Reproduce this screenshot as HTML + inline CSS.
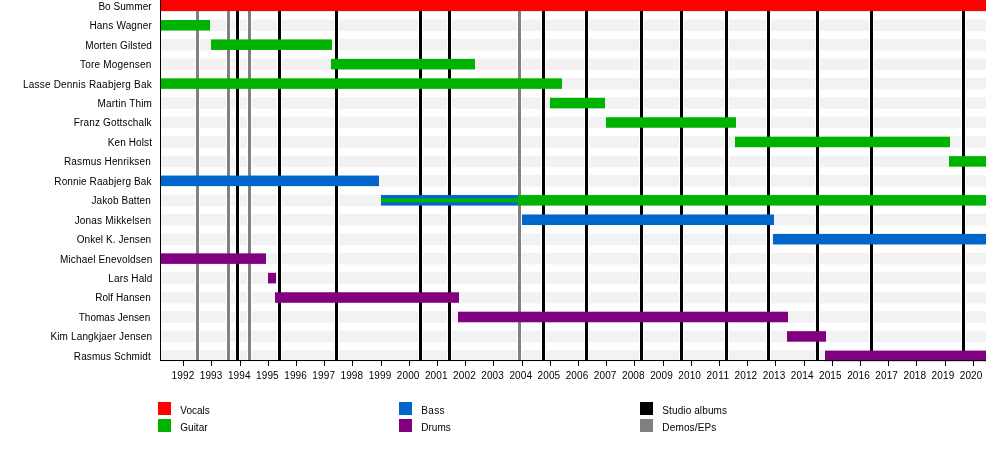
<!DOCTYPE html>
<html><head><meta charset="utf-8"><style>
html,body{margin:0;padding:0;background:#fff;width:1000px;height:450px;overflow:hidden;position:relative}
svg{will-change:transform}
svg text{font-family:"Liberation Sans",sans-serif;fill:#000}
</style></head><body>
<svg width="1000" height="450" viewBox="0 0 1000 450" style="position:absolute;left:0;top:0">
<rect x="160" y="0.01" width="826" height="11.6" fill="#f2f2f2"/>
<rect x="160" y="19.46" width="826" height="11.6" fill="#f2f2f2"/>
<rect x="160" y="38.90" width="826" height="11.6" fill="#f2f2f2"/>
<rect x="160" y="58.35" width="826" height="11.6" fill="#f2f2f2"/>
<rect x="160" y="77.80" width="826" height="11.6" fill="#f2f2f2"/>
<rect x="160" y="97.25" width="826" height="11.6" fill="#f2f2f2"/>
<rect x="160" y="116.70" width="826" height="11.6" fill="#f2f2f2"/>
<rect x="160" y="136.15" width="826" height="11.6" fill="#f2f2f2"/>
<rect x="160" y="155.60" width="826" height="11.6" fill="#f2f2f2"/>
<rect x="160" y="175.05" width="826" height="11.6" fill="#f2f2f2"/>
<rect x="160" y="194.50" width="826" height="11.6" fill="#f2f2f2"/>
<rect x="160" y="213.95" width="826" height="11.6" fill="#f2f2f2"/>
<rect x="160" y="233.39" width="826" height="11.6" fill="#f2f2f2"/>
<rect x="160" y="252.84" width="826" height="11.6" fill="#f2f2f2"/>
<rect x="160" y="272.29" width="826" height="11.6" fill="#f2f2f2"/>
<rect x="160" y="291.74" width="826" height="11.6" fill="#f2f2f2"/>
<rect x="160" y="311.19" width="826" height="11.6" fill="#f2f2f2"/>
<rect x="160" y="330.64" width="826" height="11.6" fill="#f2f2f2"/>
<rect x="160" y="350.09" width="826" height="11.6" fill="#f2f2f2"/>
<rect x="195" y="0" width="5" height="360" fill="#fff"/>
<rect x="226" y="0" width="5" height="360" fill="#fff"/>
<rect x="247" y="0" width="5" height="360" fill="#fff"/>
<rect x="517" y="0" width="5" height="360" fill="#fff"/>
<rect x="235" y="0" width="5" height="360" fill="#fff"/>
<rect x="277" y="0" width="5" height="360" fill="#fff"/>
<rect x="334" y="0" width="5" height="360" fill="#fff"/>
<rect x="418" y="0" width="5" height="360" fill="#fff"/>
<rect x="447" y="0" width="5" height="360" fill="#fff"/>
<rect x="541" y="0" width="5" height="360" fill="#fff"/>
<rect x="584" y="0" width="5" height="360" fill="#fff"/>
<rect x="639" y="0" width="5" height="360" fill="#fff"/>
<rect x="679" y="0" width="5" height="360" fill="#fff"/>
<rect x="724" y="0" width="5" height="360" fill="#fff"/>
<rect x="766" y="0" width="5" height="360" fill="#fff"/>
<rect x="815" y="0" width="5" height="360" fill="#fff"/>
<rect x="869" y="0" width="5" height="360" fill="#fff"/>
<rect x="961" y="0" width="5" height="360" fill="#fff"/>
<rect x="196" y="0" width="3" height="360" fill="#808080"/>
<rect x="227" y="0" width="3" height="360" fill="#808080"/>
<rect x="248" y="0" width="3" height="360" fill="#808080"/>
<rect x="518" y="0" width="3" height="360" fill="#808080"/>
<rect x="236" y="0" width="3" height="360" fill="#000000"/>
<rect x="278" y="0" width="3" height="360" fill="#000000"/>
<rect x="335" y="0" width="3" height="360" fill="#000000"/>
<rect x="419" y="0" width="3" height="360" fill="#000000"/>
<rect x="448" y="0" width="3" height="360" fill="#000000"/>
<rect x="542" y="0" width="3" height="360" fill="#000000"/>
<rect x="585" y="0" width="3" height="360" fill="#000000"/>
<rect x="640" y="0" width="3" height="360" fill="#000000"/>
<rect x="680" y="0" width="3" height="360" fill="#000000"/>
<rect x="725" y="0" width="3" height="360" fill="#000000"/>
<rect x="767" y="0" width="3" height="360" fill="#000000"/>
<rect x="816" y="0" width="3" height="360" fill="#000000"/>
<rect x="870" y="0" width="3" height="360" fill="#000000"/>
<rect x="962" y="0" width="3" height="360" fill="#000000"/>
<rect x="160" y="0.00" width="826" height="11.06" fill="#ff0000"/>
<rect x="160" y="20.01" width="50" height="10.50" fill="#00b300"/>
<rect x="211" y="39.45" width="121" height="10.50" fill="#00b300"/>
<rect x="331" y="58.90" width="144" height="10.50" fill="#00b300"/>
<rect x="160" y="78.35" width="402" height="10.50" fill="#00b300"/>
<rect x="550" y="97.80" width="55" height="10.50" fill="#00b300"/>
<rect x="606" y="117.25" width="130" height="10.50" fill="#00b300"/>
<rect x="735" y="136.70" width="215" height="10.50" fill="#00b300"/>
<rect x="949" y="156.15" width="37" height="10.50" fill="#00b300"/>
<rect x="160" y="175.60" width="219" height="10.50" fill="#0066cc"/>
<rect x="381" y="195.05" width="138" height="10.50" fill="#0066cc"/>
<rect x="518" y="195.05" width="468" height="10.50" fill="#00b300"/>
<rect x="522" y="214.50" width="252" height="10.50" fill="#0066cc"/>
<rect x="773" y="233.94" width="213" height="10.50" fill="#0066cc"/>
<rect x="160" y="253.39" width="106" height="10.50" fill="#800080"/>
<rect x="268" y="272.84" width="8" height="10.50" fill="#800080"/>
<rect x="275" y="292.29" width="184" height="10.50" fill="#800080"/>
<rect x="458" y="311.74" width="330" height="10.50" fill="#800080"/>
<rect x="787" y="331.19" width="39" height="10.50" fill="#800080"/>
<rect x="825" y="350.64" width="161" height="10.50" fill="#800080"/>
<rect x="381" y="198.30" width="138" height="4" fill="#00b300"/>
<rect x="160" y="0" width="1" height="361" fill="#000"/>
<rect x="160" y="360" width="826" height="1" fill="#000"/>
<rect x="183" y="361" width="1" height="5" fill="#000"/>
<text x="182.91" y="378.6" font-size="10" text-anchor="middle" textLength="22.6" lengthAdjust="spacing">1992</text>
<rect x="211" y="361" width="1" height="5" fill="#000"/>
<text x="211.06" y="378.6" font-size="10" text-anchor="middle" textLength="22.6" lengthAdjust="spacing">1993</text>
<rect x="240" y="361" width="1" height="5" fill="#000"/>
<text x="239.21" y="378.6" font-size="10" text-anchor="middle" textLength="22.6" lengthAdjust="spacing">1994</text>
<rect x="268" y="361" width="1" height="5" fill="#000"/>
<text x="267.35" y="378.6" font-size="10" text-anchor="middle" textLength="22.6" lengthAdjust="spacing">1995</text>
<rect x="296" y="361" width="1" height="5" fill="#000"/>
<text x="295.50" y="378.6" font-size="10" text-anchor="middle" textLength="22.6" lengthAdjust="spacing">1996</text>
<rect x="324" y="361" width="1" height="5" fill="#000"/>
<text x="323.65" y="378.6" font-size="10" text-anchor="middle" textLength="22.6" lengthAdjust="spacing">1997</text>
<rect x="352" y="361" width="1" height="5" fill="#000"/>
<text x="351.80" y="378.6" font-size="10" text-anchor="middle" textLength="22.6" lengthAdjust="spacing">1998</text>
<rect x="381" y="361" width="1" height="5" fill="#000"/>
<text x="379.95" y="378.6" font-size="10" text-anchor="middle" textLength="22.6" lengthAdjust="spacing">1999</text>
<rect x="409" y="361" width="1" height="5" fill="#000"/>
<text x="408.09" y="378.6" font-size="10" text-anchor="middle" textLength="22.6" lengthAdjust="spacing">2000</text>
<rect x="437" y="361" width="1" height="5" fill="#000"/>
<text x="436.24" y="378.6" font-size="10" text-anchor="middle" textLength="22.6" lengthAdjust="spacing">2001</text>
<rect x="465" y="361" width="1" height="5" fill="#000"/>
<text x="464.39" y="378.6" font-size="10" text-anchor="middle" textLength="22.6" lengthAdjust="spacing">2002</text>
<rect x="493" y="361" width="1" height="5" fill="#000"/>
<text x="492.54" y="378.6" font-size="10" text-anchor="middle" textLength="22.6" lengthAdjust="spacing">2003</text>
<rect x="522" y="361" width="1" height="5" fill="#000"/>
<text x="520.69" y="378.6" font-size="10" text-anchor="middle" textLength="22.6" lengthAdjust="spacing">2004</text>
<rect x="550" y="361" width="1" height="5" fill="#000"/>
<text x="548.83" y="378.6" font-size="10" text-anchor="middle" textLength="22.6" lengthAdjust="spacing">2005</text>
<rect x="578" y="361" width="1" height="5" fill="#000"/>
<text x="576.98" y="378.6" font-size="10" text-anchor="middle" textLength="22.6" lengthAdjust="spacing">2006</text>
<rect x="606" y="361" width="1" height="5" fill="#000"/>
<text x="605.13" y="378.6" font-size="10" text-anchor="middle" textLength="22.6" lengthAdjust="spacing">2007</text>
<rect x="634" y="361" width="1" height="5" fill="#000"/>
<text x="633.28" y="378.6" font-size="10" text-anchor="middle" textLength="22.6" lengthAdjust="spacing">2008</text>
<rect x="663" y="361" width="1" height="5" fill="#000"/>
<text x="661.43" y="378.6" font-size="10" text-anchor="middle" textLength="22.6" lengthAdjust="spacing">2009</text>
<rect x="691" y="361" width="1" height="5" fill="#000"/>
<text x="689.57" y="378.6" font-size="10" text-anchor="middle" textLength="22.6" lengthAdjust="spacing">2010</text>
<rect x="719" y="361" width="1" height="5" fill="#000"/>
<text x="717.72" y="378.6" font-size="10" text-anchor="middle" textLength="22.6" lengthAdjust="spacing">2011</text>
<rect x="747" y="361" width="1" height="5" fill="#000"/>
<text x="745.87" y="378.6" font-size="10" text-anchor="middle" textLength="22.6" lengthAdjust="spacing">2012</text>
<rect x="775" y="361" width="1" height="5" fill="#000"/>
<text x="774.02" y="378.6" font-size="10" text-anchor="middle" textLength="22.6" lengthAdjust="spacing">2013</text>
<rect x="804" y="361" width="1" height="5" fill="#000"/>
<text x="802.17" y="378.6" font-size="10" text-anchor="middle" textLength="22.6" lengthAdjust="spacing">2014</text>
<rect x="832" y="361" width="1" height="5" fill="#000"/>
<text x="830.31" y="378.6" font-size="10" text-anchor="middle" textLength="22.6" lengthAdjust="spacing">2015</text>
<rect x="860" y="361" width="1" height="5" fill="#000"/>
<text x="858.46" y="378.6" font-size="10" text-anchor="middle" textLength="22.6" lengthAdjust="spacing">2016</text>
<rect x="888" y="361" width="1" height="5" fill="#000"/>
<text x="886.61" y="378.6" font-size="10" text-anchor="middle" textLength="22.6" lengthAdjust="spacing">2017</text>
<rect x="916" y="361" width="1" height="5" fill="#000"/>
<text x="914.76" y="378.6" font-size="10" text-anchor="middle" textLength="22.6" lengthAdjust="spacing">2018</text>
<rect x="945" y="361" width="1" height="5" fill="#000"/>
<text x="942.91" y="378.6" font-size="10" text-anchor="middle" textLength="22.6" lengthAdjust="spacing">2019</text>
<rect x="973" y="361" width="1" height="5" fill="#000"/>
<text x="971.05" y="378.6" font-size="10" text-anchor="middle" textLength="22.6" lengthAdjust="spacing">2020</text>
<text x="151.60" y="9.71" font-size="10" text-anchor="end" textLength="53.20" lengthAdjust="spacing">Bo Summer</text>
<text x="151.90" y="29.16" font-size="10" text-anchor="end" textLength="62.48" lengthAdjust="spacing">Hans Wagner</text>
<text x="151.90" y="48.60" font-size="10" text-anchor="end" textLength="66.73" lengthAdjust="spacing">Morten Gilsted</text>
<text x="151.40" y="68.05" font-size="10" text-anchor="end" textLength="71.44" lengthAdjust="spacing">Tore Mogensen</text>
<text x="151.70" y="87.50" font-size="10" text-anchor="end" textLength="128.67" lengthAdjust="spacing">Lasse Dennis Raabjerg Bak</text>
<text x="151.90" y="106.95" font-size="10" text-anchor="end" textLength="54.31" lengthAdjust="spacing">Martin Thim</text>
<text x="151.60" y="126.40" font-size="10" text-anchor="end" textLength="77.79" lengthAdjust="spacing">Franz Gottschalk</text>
<text x="152.00" y="145.85" font-size="10" text-anchor="end" textLength="44.26" lengthAdjust="spacing">Ken Holst</text>
<text x="150.80" y="165.30" font-size="10" text-anchor="end" textLength="86.88" lengthAdjust="spacing">Rasmus Henriksen</text>
<text x="151.40" y="184.75" font-size="10" text-anchor="end" textLength="97.06" lengthAdjust="spacing">Ronnie Raabjerg Bak</text>
<text x="150.80" y="204.20" font-size="10" text-anchor="end" textLength="59.38" lengthAdjust="spacing">Jakob Batten</text>
<text x="151.10" y="223.65" font-size="10" text-anchor="end" textLength="76.42" lengthAdjust="spacing">Jonas Mikkelsen</text>
<text x="151.10" y="243.09" font-size="10" text-anchor="end" textLength="74.47" lengthAdjust="spacing">Onkel K. Jensen</text>
<text x="152.30" y="262.54" font-size="10" text-anchor="end" textLength="92.40" lengthAdjust="spacing">Michael Enevoldsen</text>
<text x="152.30" y="281.99" font-size="10" text-anchor="end" textLength="44.01" lengthAdjust="spacing">Lars Hald</text>
<text x="150.80" y="301.44" font-size="10" text-anchor="end" textLength="55.63" lengthAdjust="spacing">Rolf Hansen</text>
<text x="150.20" y="320.89" font-size="10" text-anchor="end" textLength="71.56" lengthAdjust="spacing">Thomas Jensen</text>
<text x="152.00" y="340.34" font-size="10" text-anchor="end" textLength="101.55" lengthAdjust="spacing">Kim Langkjaer Jensen</text>
<text x="150.80" y="359.79" font-size="10" text-anchor="end" textLength="76.98" lengthAdjust="spacing">Rasmus Schmidt</text>
<rect x="158" y="402" width="13" height="13" fill="#ff0000"/>
<text x="180.3" y="414" font-size="10">Vocals</text>
<rect x="158" y="419" width="13" height="13" fill="#00b300"/>
<text x="180.3" y="431" font-size="10">Guitar</text>
<rect x="399" y="402" width="13" height="13" fill="#0066cc"/>
<text x="421.3" y="414" font-size="10" textLength="23.2" lengthAdjust="spacing">Bass</text>
<rect x="399" y="419" width="13" height="13" fill="#800080"/>
<text x="421.3" y="431" font-size="10">Drums</text>
<rect x="640" y="402" width="13" height="13" fill="#000000"/>
<text x="662.3" y="414" font-size="10" textLength="64.7" lengthAdjust="spacing">Studio albums</text>
<rect x="640" y="419" width="13" height="13" fill="#808080"/>
<text x="662.3" y="431" font-size="10" textLength="54.0" lengthAdjust="spacing">Demos/EPs</text>
</svg>
</body></html>
